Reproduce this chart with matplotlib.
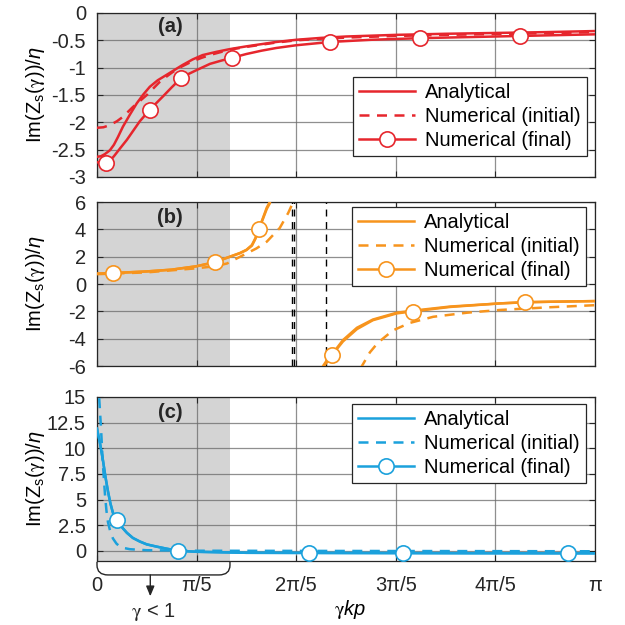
import numpy as np
import matplotlib.pyplot as plt
from matplotlib.lines import Line2D
from matplotlib.path import Path
from matplotlib.patches import PathPatch

plt.rcParams['font.family'] = ['Liberation Sans', 'DejaVu Sans']
plt.rcParams['mathtext.fontset'] = 'custom'
plt.rcParams['mathtext.rm'] = 'STIXGeneral'
plt.rcParams['mathtext.sf'] = 'Liberation Sans'
plt.rcParams['mathtext.it'] = 'Liberation Sans:italic'
plt.rcParams['font.size'] = 14.5

# x values are in units of pi (gamma*k*p / pi)
# ---- panel (a)
a_ana_x = [0, 0.008, 0.016, 0.026, 0.034, 0.042, 0.052, 0.066, 0.080, 0.093, 0.106, 0.122, 0.140, 0.156, 0.172,
           0.192, 0.212, 0.24, 0.267, 0.30, 0.33, 0.36, 0.40, 0.45, 0.50, 0.60, 0.70, 0.80, 0.90, 1.0]
a_ana_y = [-2.63, -2.62, -2.58, -2.51, -2.41, -2.27, -2.08, -1.86, -1.65, -1.49, -1.35, -1.23, -1.13, -1.04, -0.95,
           -0.85, -0.77, -0.71, -0.66, -0.61, -0.57, -0.53, -0.49, -0.455, -0.43, -0.40, -0.38, -0.365, -0.35, -0.33]
a_ini_x = [0, 0.013, 0.026, 0.040, 0.052, 0.062, 0.072, 0.086, 0.100, 0.113, 0.126, 0.140, 0.152, 0.170, 0.190,
           0.210, 0.230, 0.267, 0.30, 0.33, 0.36, 0.40, 0.45, 0.50, 0.60, 0.70, 0.80, 0.90, 1.0]
a_ini_y = [-2.10, -2.09, -2.05, -1.98, -1.90, -1.81, -1.72, -1.61, -1.50, -1.38, -1.26, -1.16, -1.08, -0.98, -0.89,
           -0.82, -0.76, -0.67, -0.62, -0.58, -0.54, -0.50, -0.47, -0.45, -0.42, -0.40, -0.385, -0.37, -0.35]
a_fin_x = [0, 0.010, 0.018, 0.026, 0.034, 0.046, 0.060, 0.073, 0.086, 0.106, 0.120, 0.132, 0.150, 0.169, 0.185,
           0.201, 0.227, 0.250, 0.271, 0.30, 0.33, 0.36, 0.40, 0.468, 0.55, 0.649, 0.75, 0.849, 1.0]
a_fin_y = [-2.73, -2.745, -2.74, -2.70, -2.62, -2.48, -2.32, -2.15, -1.98, -1.77, -1.64, -1.53, -1.36, -1.19, -1.11,
           -1.04, -0.93, -0.87, -0.82, -0.75, -0.69, -0.64, -0.59, -0.53, -0.49, -0.46, -0.44, -0.42, -0.39]
a_mk_x = [0.018, 0.106, 0.169, 0.271, 0.468, 0.649, 0.849]
a_mk_y = [-2.74, -1.77, -1.19, -0.82, -0.53, -0.46, -0.42]

# ---- panel (b)
b_ana_x = [0, 0.032, 0.10, 0.15, 0.20, 0.237, 0.267, 0.287, 0.300, 0.311, 0.318, 0.325, 0.333, 0.341, 0.347, 0.356, np.nan,
           0.448, 0.454, 0.463, 0.474, 0.494, 0.522, 0.554, 0.602, 0.635, 0.709, 0.809, 0.859, 0.908, 1.0]
b_ana_y = [0.75, 0.80, 0.92, 1.05, 1.30, 1.60, 2.0, 2.27, 2.5, 2.85, 3.35, 4.0, 4.8, 5.6, 6.0, 8.0, np.nan,
           -7.5, -6.0, -5.5, -5.05, -4.1, -3.2, -2.6, -2.1, -1.95, -1.65, -1.42, -1.34, -1.30, -1.25]
b_fin_x = [0, 0.032, 0.10, 0.15, 0.20, 0.237, 0.267, 0.287, 0.300, 0.311, 0.318, 0.325, 0.333, 0.341, 0.347, 0.356, np.nan,
           0.450, 0.456, 0.464, 0.472, 0.494, 0.522, 0.554, 0.602, 0.635, 0.709, 0.809, 0.859, 0.908, 1.0]
b_fin_y = [0.76, 0.80, 0.92, 1.05, 1.30, 1.60, 2.0, 2.25, 2.48, 2.8, 3.3, 4.0, 4.75, 5.5, 5.9, 8.0, np.nan,
           -7.5, -6.0, -5.6, -5.2, -4.2, -3.3, -2.65, -2.15, -2.0, -1.68, -1.42, -1.33, -1.30, -1.25]
b_ini_x = [0, 0.10, 0.20, 0.237, 0.261, 0.293, 0.320, 0.341, 0.367, 0.384, 0.394, 0.40, np.nan,
           0.528, 0.532, 0.548, 0.564, 0.594, 0.628, 0.675, 0.743, 0.809, 0.910, 1.0]
b_ini_y = [0.72, 0.85, 1.15, 1.30, 1.5, 2.1, 2.6, 3.1, 4.1, 5.2, 6.0, 7.5, np.nan,
           -7.5, -6.0, -5.0, -4.3, -3.4, -2.85, -2.4, -2.1, -1.9, -1.7, -1.55]
b_mk_x = [0.032, 0.237, 0.325, 0.472, 0.635, 0.859]
b_mk_y = [0.80, 1.60, 4.0, -5.2, -2.05, -1.32]
b_poles = [0.392, 0.396, 0.459]

# ---- panel (c)
c_ana_x = [0, 0.006, 0.012, 0.017, 0.022, 0.027, 0.032, 0.040, 0.050, 0.060, 0.072, 0.086, 0.100, 0.120, 0.140, 0.163,
           0.20, 0.30, 0.50, 0.75, 1.0]
c_ana_y = [11.9, 10.5, 8.8, 7.2, 5.8, 4.6, 3.7, 3.0, 2.3, 1.75, 1.25, 0.9, 0.62, 0.4, 0.2, 0.0,
           -0.1, -0.2, -0.22, -0.24, -0.25]
c_ini_x = [0.0, 0.004, 0.008, 0.0115, 0.016, 0.019, 0.022, 0.027, 0.032, 0.039, 0.046, 0.056, 0.066, 0.10, 0.20, 0.50, 1.0]
c_ini_y = [20.0, 15.2, 12.0, 8.7, 5.5, 3.9, 2.8, 1.8, 1.2, 0.7, 0.4, 0.25, 0.15, 0.05, 0.0, -0.02, -0.05]
c_mk_x = [0.040, 0.163, 0.426, 0.614, 0.946]
c_mk_y = [3.0, 0.0, -0.2, -0.2, -0.2]

red = '#e6262d'
orange = '#f7941d'
blue = '#1ba1dc'
gray_end = 0.267

xticks = [0, 0.2, 0.4, 0.6, 0.8, 1.0]
xticklabels = ['0', 'π/5', '2π/5', '3π/5', '4π/5', 'π']

fig = plt.figure(figsize=(6.25, 6.25), dpi=100)
ax_a = fig.add_axes([0.1552, 0.7168, 0.7968, 0.2624])
ax_b = fig.add_axes([0.1552, 0.4144, 0.7968, 0.2624])
ax_c = fig.add_axes([0.1552, 0.1024, 0.7968, 0.2624])

panels = [
    (ax_a, red, a_ana_x, a_ana_y, a_ini_x, a_ini_y, a_fin_x, a_fin_y, a_mk_x, a_mk_y,
     (-3, 0), np.arange(-3, 0.01, 0.5), '(a)', 0.92, (0.984, 0.61)),
    (ax_b, orange, b_ana_x, b_ana_y, b_ini_x, b_ini_y, b_fin_x, b_fin_y, b_mk_x, b_mk_y,
     (-6, 6), np.arange(-6, 6.1, 2), '(b)', 0.905, (0.982, 0.97)),
    (ax_c, blue, c_ana_x, c_ana_y, c_ini_x, c_ini_y, c_ana_x, c_ana_y, c_mk_x, c_mk_y,
     (-1, 15), np.arange(0, 15.1, 2.5), '(c)', 0.905, (0.982, 0.957)),
]

for ax, col, ax_x, ax_y, ix, iy, fx, fy, mx, my, ylim, yt, lab, laby, lpos in panels:
    ax.axvspan(0, gray_end, color='#d4d4d4', lw=0, zorder=0.1)
    ax.plot(ax_x, ax_y, color=col, lw=1.8, zorder=3)
    ax.plot(ix, iy, color=col, lw=1.8, ls=(0, (4, 3)), zorder=3)
    ax.plot(fx, fy, color=col, lw=1.8, zorder=3)
    ax.plot(mx, my, ls='none', marker='o', ms=11, mfc='white', mec=col, mew=1.2, zorder=4)
    ax.set_xlim(0, 1)
    ax.set_ylim(*ylim)
    ax.set_yticks(yt)
    ax.set_yticklabels(['%g' % v for v in yt])
    ax.set_xticks(xticks)
    ax.set_axisbelow(True)
    ax.grid(True, color='#6a6a6a', lw=0.9, alpha=0.75)
    ax.tick_params(direction='in', top=True, right=True, length=4, colors='#262626', pad=8)
    for s in ax.spines.values():
        s.set_color('#262626')
        s.set_linewidth(0.9)
    ax.set_ylabel('Im(Z$_\\mathsf{s}$($\\mathrm{\\gamma}$))/$\\mathit{η}$')
    ax.yaxis.set_label_coords(-0.10, 0.5)
    ax.text(0.147, laby, lab, transform=ax.transAxes,
            ha='center', va='center', fontweight='bold', color='#262626', zorder=5)
    handles = [Line2D([], [], color=col, lw=1.8),
               Line2D([], [], color=col, lw=1.8, ls=(0, (4, 3))),
               Line2D([], [], color=col, lw=1.8, marker='o', ms=11, mfc='white', mec=col, mew=1.2)]
    leg = ax.legend(handles, ['Analytical', 'Numerical (initial)', 'Numerical (final)'],
                    loc='upper right', bbox_to_anchor=lpos, borderaxespad=0, fancybox=False,
                    framealpha=1, edgecolor='#262626', handlelength=2.8, handletextpad=0.5,
                    labelspacing=0.25, borderpad=0.3, numpoints=1)
    leg.get_frame().set_linewidth(0.9)
    leg.set_zorder(6)

for p in b_poles:
    ax_b.axvline(p, color='k', lw=1.0, ls=(0, (5, 4)), zorder=2)

ax_a.tick_params(labelbottom=False)
ax_b.tick_params(labelbottom=False)
ax_c.set_xticklabels(xticklabels)
ax_c.tick_params(axis='x', pad=11)
ax_c.set_xlabel('$\\mathrm{\\gamma}\\mathit{kp}$')
ax_c.xaxis.set_label_coords(0.508, -0.225)

# bracket for gamma < 1 region
tr = ax_c.get_xaxis_transform()
y0, y1, r = -0.006, -0.085, 0.022
verts = [(0, y0), (0, y1 + 0.06), (0, y1), (r, y1), (gray_end - r, y1),
         (gray_end, y1), (gray_end, y1 + 0.06), (gray_end, y0)]
codes = [Path.MOVETO, Path.LINETO, Path.CURVE3, Path.CURVE3, Path.LINETO,
         Path.CURVE3, Path.CURVE3, Path.LINETO]
ax_c.add_patch(PathPatch(Path(verts, codes), transform=tr, fill=False, lw=1.0,
                         ec='#262626', clip_on=False))
ax_c.annotate('', xy=(0.107, -0.215), xytext=(0.107, y1), xycoords=tr, textcoords=tr,
              arrowprops=dict(arrowstyle='-|>,head_length=0.6,head_width=0.25', color='#262626',
                              lw=1.0, mutation_scale=10, shrinkA=0, shrinkB=0))
ax_c.text(0.113, -0.31, '$\\mathrm{\\gamma}$ < 1', transform=tr, ha='center', va='center', color='#262626')

plt.savefig('out.png', dpi=100)
